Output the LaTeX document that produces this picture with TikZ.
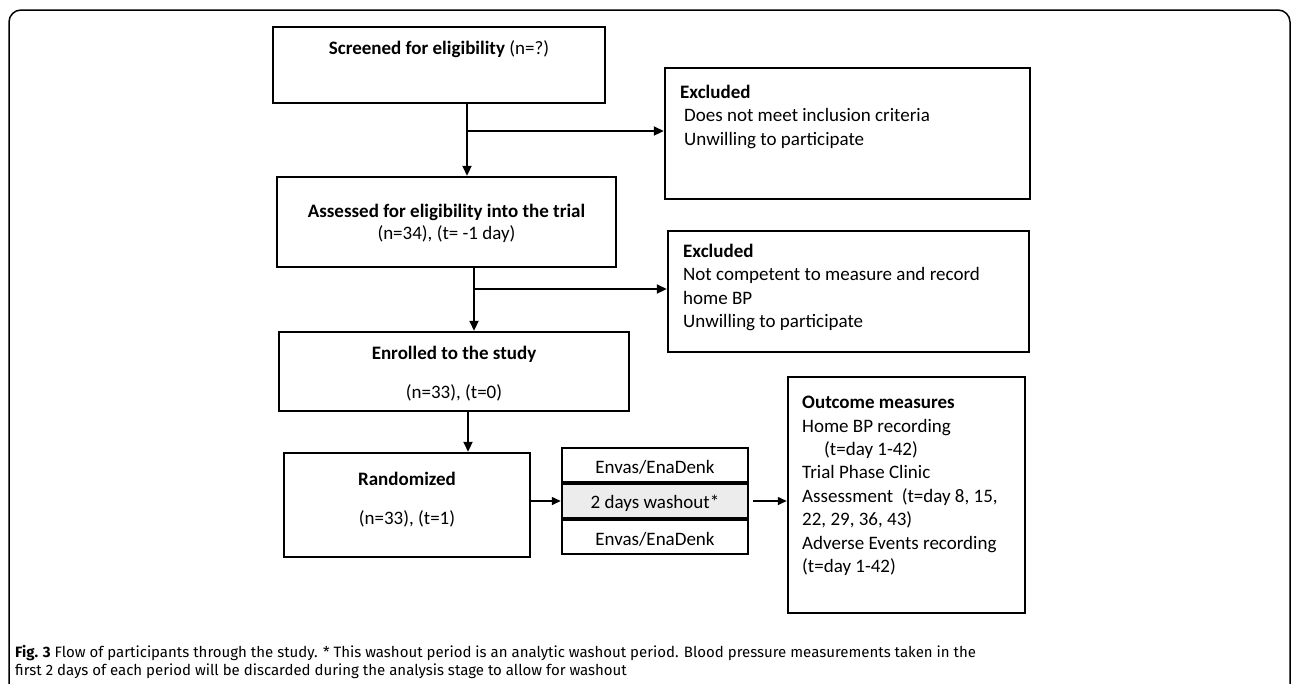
\documentclass[tikz,border=0pt]{standalone}
\usepackage{fontspec}
\setmainfont{Carlito}
\newfontfamily\capfont{Fira Sans}
\usetikzlibrary{arrows.meta}

\begin{document}
\begin{tikzpicture}
    [x=1pt,y=-1pt,
     box/.style={draw,rectangle,line width=2.5pt,inner sep=0pt},
     cell/.style={box,minimum width=186,minimum height=34},
     txt/.style={inner sep=0pt,font=\fontsize{19}{23.4}\selectfont},
     arr/.style={line width=2.2pt,-{Triangle[length=10pt,width=9pt]}},
     thin/.style={line width=1.5pt,-{Triangle[length=9pt,width=8pt]}}]
    \useasboundingbox (0,0) rectangle (1292,683);
    % frame round the figure
    \draw[line width=1.5pt,rounded corners=12pt] (9,720) |- (1290,10) -- (1290,720) ;
    % boxes
    \node[box,minimum width=332,minimum height=76] (scr) at (439,65) {};
    \node[box,minimum width=365,minimum height=131] (ex1) at (847.5,133.5) {};
    \node[box,minimum width=339,minimum height=90] (ass) at (446.5,222) {};
    \node[box,minimum width=361,minimum height=121] (ex2) at (848.5,291.5) {};
    \node[box,minimum width=350,minimum height=79] (enr) at (454,371.5) {};
    \node[box,minimum width=246,minimum height=104] (ran) at (407,505) {};
    \node[cell] (env1) at (655,465) {};
    \node[cell,fill=gray!15] (wash) at (655,501) {};
    \node[cell] (env2) at (655,537) {};
    \node[box,minimum width=237,minimum height=236] (out) at (906.5,495) {};
    % texts
    \node[txt] (scr-t) at (439,49) {\textbf{Screened for eligibility} (n=?)};
    \node[txt,align=left,anchor=north west] (ex1-t) at (680,85)
      {\textbf{Excluded}\\\hspace*{4pt}Does not meet inclusion criteria\\\hspace*{4pt}Unwilling to participate};
    \node[txt] (ass-t1) at (446.5,212) {\textbf{Assessed for eligibility into the trial}};
    \node[txt] (ass-t2) at (446.5,234) {(n=34), (t= -1 day)};
    \node[txt,align=left,anchor=north west] (ex2-t) at (683,244)
      {\textbf{Excluded}\\Not competent to measure and record\\home BP\\Unwilling to participate};
    \node[txt] (enr-t1) at (454,354) {\textbf{Enrolled to the study}};
    \node[txt] (enr-t2) at (454,393) {(n=33), (t=0)};
    \node[txt] (ran-t1) at (407,479) {\textbf{Randomized}};
    \node[txt] (ran-t2) at (407,519) {(n=33), (t=1)};
    \node[txt] (env1-t) at (655,467) {Envas/EnaDenk};
    \node[txt] (wash-t) at (655,503) {2 days washout*};
    \node[txt] (env2-t) at (655,539) {Envas/EnaDenk};
    \node[txt,align=left,anchor=north west] (out-t) at (802,396)
      {\textbf{Outcome measures}\\Home BP recording\\\hspace*{22pt}(t=day 1-42)\\Trial Phase Clinic\\Assessment\ \ (t=day 8, 15,\\22, 29, 36, 43)\\Adverse Events recording\\(t=day 1-42)};
    \node[inner sep=0pt,align=left,anchor=north west,font=\capfont\fontsize{15}{18.5}\selectfont] (cap) at (15,645)
      {\textbf{Fig. 3} Flow of participants through the study. * This washout period is an analytic washout period. Blood pressure measurements taken in the\\first 2 days of each period will be discarded during the analysis stage to allow for washout};
    % connectors
    \coordinate (b1) at (467,131);
    \coordinate (b2) at (474,289);
    \coordinate (b3) at (468,432);
    \draw[arr] (scr.south -| b1) -- (ass.north -| b1) ;
    \draw[arr] (b1) -- (b1 -| ex1.west) ;
    \draw[arr] (ass.south -| b2) -- (enr.north -| b2) ;
    \draw[arr] (b2) -- (b2 -| ex2.west) ;
    \draw[arr] (enr.south -| b3) -- (ran.north -| b3) ;
    \draw[thin] (ran.east |- wash) -- (wash.west) ;
    \draw[thin] ([xshift=4pt]wash.east) -- (out.west |- wash) ;
  \end{tikzpicture}
\end{document}
